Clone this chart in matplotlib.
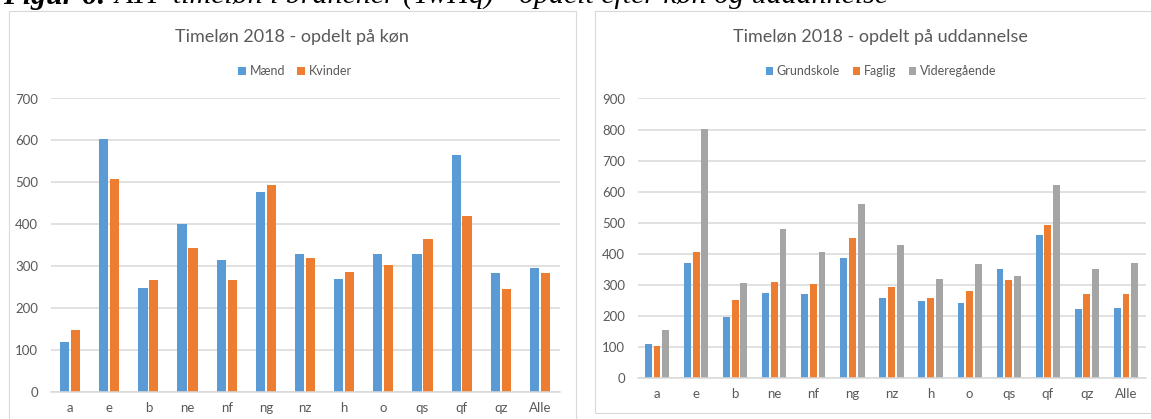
import numpy as np
import matplotlib
matplotlib.use("Agg")
import matplotlib.pyplot as plt
from matplotlib.patches import Rectangle

# Data
categories = ["a", "e", "b", "ne", "nf", "ng", "nz", "h", "o", "qs", "qf", "qz", "Alle"]

maend = [119, 604, 249, 401, 315, 476, 329, 270, 329, 329, 566, 284, 296]
kvinder = [149, 509, 268, 344, 268, 493, 320, 286, 304, 365, 419, 246, 284]

grundskole = [111, 370, 198, 273, 269, 388, 259, 248, 241, 351, 460, 222, 227]
faglig = [104, 405, 251, 309, 302, 452, 294, 259, 280, 316, 492, 270, 270]
videregaaende = [155, 803, 305, 480, 405, 560, 427, 319, 366, 327, 621, 351, 371]

BLUE = "#5B9BD5"
ORANGE = "#ED7D31"
GRAY = "#A5A5A5"
GRID = "#D9D9D9"
TXT = "#595959"
FONT = ["Lato", "DejaVu Sans"]

W, H = 1151, 419
fig = plt.figure(figsize=(W / 100, H / 100), dpi=100)
fig.patch.set_facecolor("white")


def fx(px):
    return px / W


def fy(py):
    return 1 - py / H


# chart frames
fig.add_artist(Rectangle((fx(8.5), fy(430)), fx(575.5) - fx(8.5), fy(11.5) - fy(430),
                         transform=fig.transFigure, fill=False, edgecolor=GRID, lw=0.8))
fig.add_artist(Rectangle((fx(594.5), fy(413)), fx(1160) - fx(594.5), fy(11.5) - fy(413),
                         transform=fig.transFigure, fill=False, edgecolor=GRID, lw=0.8))


def style_axes(ax, ymax, step):
    ax.set_xlim(-0.5, len(categories) - 0.5)
    ax.set_ylim(0, ymax)
    ax.set_yticks(np.arange(0, ymax + 1, step))
    ax.set_xticks(np.arange(len(categories)))
    ax.set_xticklabels(categories)
    ax.yaxis.grid(True, color=GRID, lw=1.1)
    ax.set_axisbelow(True)
    for s in ["left", "right", "top"]:
        ax.spines[s].set_visible(False)
    ax.spines["bottom"].set_color(GRID)
    ax.spines["bottom"].set_linewidth(1.1)
    ax.tick_params(axis="both", length=0, colors=TXT, labelsize=9.5)
    ax.tick_params(axis="x", pad=7)
    ax.tick_params(axis="y", pad=9)
    for lab in ax.get_xticklabels() + ax.get_yticklabels():
        lab.set_family(FONT)


x = np.arange(len(categories))

# left chart
ax1 = fig.add_axes([fx(50.5), fy(392), fx(559.5) - fx(50.5), fy(98.5) - fy(392)])
b1 = ax1.bar(x - 0.14, maend, 0.235, color=BLUE, label="Mænd")
b2 = ax1.bar(x + 0.14, kvinder, 0.235, color=ORANGE, label="Kvinder")
style_axes(ax1, 700, 100)
fig.text(fx(292), fy(37), "Timeløn 2018 - opdelt på køn", ha="center", va="center",
         fontsize=13, color=TXT, family=FONT)
fig.legend(handles=[b1, b2], loc="center", bbox_to_anchor=(fx(295), fy(71)), ncol=2,
           frameon=False, prop={"family": FONT, "size": 9}, labelcolor=TXT,
           handlelength=0.6, handleheight=0.6, handletextpad=0.3, columnspacing=1.0)

# right chart
ax2 = fig.add_axes([fx(637.5), fy(378), fx(1145.5) - fx(637.5), fy(98.5) - fy(378)])
c1 = ax2.bar(x - 0.222, grundskole, 0.175, color=BLUE, label="Grundskole")
c2 = ax2.bar(x, faglig, 0.175, color=ORANGE, label="Faglig")
c3 = ax2.bar(x + 0.222, videregaaende, 0.175, color=GRAY, label="Videregående")
style_axes(ax2, 900, 100)
fig.text(fx(880), fy(37), "Timeløn 2018 - opdelt på uddannelse", ha="center", va="center",
         fontsize=13, color=TXT, family=FONT)
fig.legend(handles=[c1, c2, c3], loc="center", bbox_to_anchor=(fx(881), fy(71)), ncol=3,
           frameon=False, prop={"family": FONT, "size": 9}, labelcolor=TXT,
           handlelength=0.6, handleheight=0.6, handletextpad=0.3, columnspacing=1.0)

# caption, cut off at the top edge as in the source page
cap1 = fig.text(fx(3), fy(4), "Figur 6: ", fontsize=21.5, family="Liberation Serif",
                weight="bold", style="italic", va="baseline", ha="left")
fig.canvas.draw()
bb = cap1.get_window_extent()
fig.text(bb.x1 / W, fy(4), "ATP timeløn i brancher (TwHq) - opdelt efter køn og uddannelse",
         fontsize=21.5, family="Liberation Serif", style="italic", va="baseline", ha="left")

fig.savefig("out.png", dpi=100)
